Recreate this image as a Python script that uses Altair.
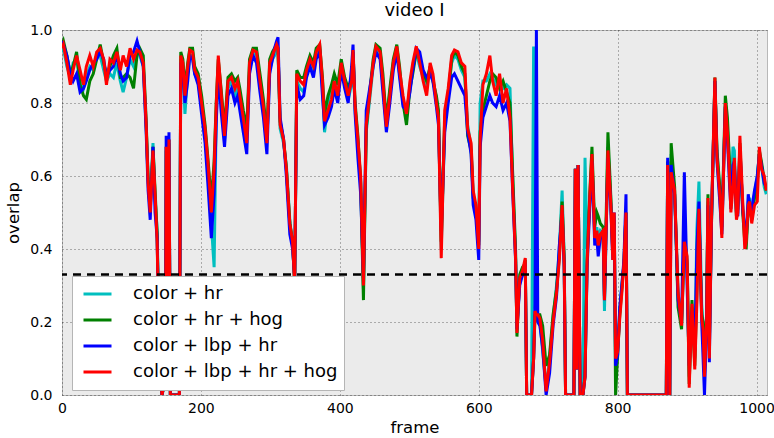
import altair as alt
import pandas as pd

# Frame indices shared by every tracker curve
frame = [
    0, 2, 7, 12, 16, 21, 26, 31, 35, 40,
    45, 50, 55, 60, 64, 69, 74, 79, 84, 88,
    93, 98, 103, 108, 112, 117, 121, 124, 127, 131,
    134, 137, 140, 144, 149, 150, 152, 154, 156, 169,
    171, 174, 177, 181, 184, 188, 191, 196, 201, 206,
    210, 215, 219, 222, 225, 229, 234, 239, 244, 249,
    253, 256, 261, 266, 270, 275, 280, 285, 290, 295,
    299, 303, 306, 309, 311, 314, 319, 323, 328, 332,
    335, 338, 343, 348, 352, 357, 362, 366, 371, 375,
    378, 383, 388, 392, 397, 402, 407, 412, 417, 419,
    422, 426, 430, 434, 438, 443, 448, 452, 458, 462,
    467, 472, 477, 482, 486, 491, 496, 501, 505, 510,
    515, 520, 525, 530, 534, 539, 542, 546, 551, 556,
    561, 565, 570, 575, 580, 584, 589, 592, 596, 600,
    602, 606, 611, 616, 620, 625, 630, 635, 640, 645,
    649, 653, 655, 659, 663, 667, 669, 676, 679, 681,
    683, 685, 688, 692, 697, 702, 707, 712, 716, 720,
    723, 725, 737, 739, 741, 743, 746, 750, 753, 756,
    760, 763, 767, 770, 772, 775, 779, 781, 786, 790,
    793, 795, 797, 800, 803, 806, 809, 812, 814, 870,
    872, 875, 877, 882, 887, 892, 896, 900, 903, 907,
    911, 914, 917, 921, 923, 925, 928, 930, 932, 935,
    940, 943, 947, 950, 955, 958, 961, 963, 966, 968,
    971, 973, 976, 980, 983, 985, 988, 990, 993, 997,
    1001, 1004, 1007, 1011, 1014,
]

# Overlap per frame, one list per feature combination
color_hr = [
    .94, .95, .90, .87, .91, .92, .86, .84, .87, .90,
    .89, .93, .93, .89, .86, .88, .87, .91, .86, .83,
    .87, .92, .90, .94, .93, .90, .74, .60, .52, .69,
    .54, .45, .12, 0, .04, .67, .12, .69, 0, 0,
    .92, .90, .77, .88, .93, .93, .88, .86, .79, .72,
    .62, .47, .35, .76, .90, .81, .70, .84, .86, .82,
    .84, .80, .74, .72, .89, .94, .93, .85, .78, .70,
    .89, .92, .93, .95, .94, .73, .69, .63, .48, .41,
    .31, .86, .84, .83, .88, .91, .89, .93, .95, .84,
    .72, .80, .84, .87, .84, .90, .85, .81, .85, .93,
    .78, .69, .59, .29, .72, .81, .90, .95, .93, .85,
    .74, .83, .90, .94, .88, .80, .76, .85, .90, .94,
    .90, .87, .84, .90, .87, .81, .77, .40, .74, .83,
    .91, .93, .92, .89, .87, .74, .68, .55, .51, .42,
    .80, .86, .86, .88, .87, .85, .86, .84, .85, .84,
    .58, .38, .19, .31, .33, .37, 0, 0, .955, .24,
    .21, .22, .20, .12, .02, .10, .21, .30, .40, .56,
    .38, 0, 0, .62, .08, .63, 0, 0, .65, .40,
    .53, .64, .44, .46, .43, .45, .44, .23, .68, .54,
    .38, .49, .10, .13, .23, .30, .36, .50, 0, 0,
    .64, 0, .66, .55, .28, .20, .44, .37, .05, .24,
    .10, .45, .585, .25, .19, .06, .21, .53, .12, .47,
    .86, .66, .56, .45, .79, .73, .62, .53, .68, .67,
    .50, .52, .66, .52, .44, .42, .53, .54, .49, .55,
    .60, .66, .63, .57, .55,
]

color_hr_hog = [
    .96, .97, .93, .88, .90, .94, .85, .82, .81, .86,
    .88, .92, .96, .91, .88, .90, .93, .95, .87, .87,
    .88, .87, .84, .93, .95, .93, .76, .59, .51, .68,
    .56, .44, .10, 0, .05, .68, .12, .70, 0, 0,
    .94, .92, .84, .91, .95, .95, .90, .88, .82, .74,
    .65, .53, .64, .80, .92, .84, .73, .87, .88, .86,
    .87, .84, .78, .73, .92, .95, .95, .88, .81, .71,
    .92, .94, .95, .96, .95, .75, .70, .62, .47, .42,
    .30, .89, .87, .87, .90, .93, .91, .95, .96, .87,
    .77, .82, .85, .88, .85, .92, .87, .84, .87, .94,
    .80, .71, .58, .26, .73, .83, .92, .96, .95, .88,
    .75, .84, .92, .96, .90, .80, .74, .84, .88, .94,
    .92, .88, .86, .90, .86, .82, .78, .42, .76, .82,
    .92, .94, .93, .90, .88, .71, .67, .54, .50, .41,
    .72, .78, .82, .86, .88, .87, .84, .86, .83, .80,
    .60, .40, .16, .33, .35, .36, 0, 0, .10, .22,
    .21, .22, .22, .19, .08, .11, .22, .29, .38, .53,
    .37, 0, 0, .62, .07, .63, 0, 0, .05, .37,
    .56, .68, .46, .50, .49, .47, .46, .27, .72, .55,
    .39, .48, 0, .11, .22, .29, .36, .50, 0, 0,
    .64, 0, .69, .57, .24, .18, .43, .36, .03, .26,
    .08, .28, .50, .22, .20, .07, .22, .55, .14, .46,
    .87, .67, .57, .46, .82, .76, .64, .52, .60, .63,
    .49, .51, .69, .50, .42, .40, .51, .52, .48, .54,
    .58, .67, .64, .59, .56,
]

color_lbp_hr = [
    .97, .96, .93, .88, .86, .88, .83, .84, .86, .89,
    .91, .92, .94, .92, .87, .89, .90, .93, .88, .86,
    .87, .93, .94, .97, .94, .90, .73, .56, .48, .68,
    .50, .43, .10, 0, .05, .71, .12, .72, 0, 0,
    .91, .89, .80, .86, .93, .92, .88, .85, .77, .69,
    .58, .43, .55, .74, .89, .78, .68, .82, .84, .80,
    .82, .78, .72, .66, .88, .93, .91, .83, .76, .66,
    .88, .92, .95, .97, .98, .76, .70, .60, .44, .40,
    .32, .85, .81, .82, .87, .90, .87, .92, .94, .82,
    .74, .76, .79, .84, .80, .89, .84, .80, .90, .96,
    .77, .65, .55, .32, .78, .84, .90, .94, .92, .83,
    .72, .80, .89, .94, .87, .79, .78, .83, .89, .95,
    .94, .89, .87, .88, .86, .79, .74, .45, .72, .80,
    .87, .88, .86, .84, .82, .72, .66, .52, .48, .37,
    .68, .76, .79, .82, .80, .79, .82, .78, .80, .75,
    .55, .37, .18, .30, .33, .36, 0, 0, .10, .25,
    1.0, .20, .19, .13, 0, .06, .19, .27, .41, .50,
    .35, 0, 0, .62, .07, .63, 0, 0, .05, .35,
    .52, .64, .41, .43, .38, .43, .45, .26, .65, .52,
    .37, .50, .08, .11, .24, .30, .37, .55, 0, 0,
    .65, 0, .63, .55, .26, .20, .61, .30, .08, .23,
    .12, .40, .53, .20, .10, 0, .19, .52, .09, .47,
    .86, .64, .53, .44, .79, .70, .58, .51, .63, .64,
    .50, .49, .68, .51, .45, .43, .55, .52, .51, .56,
    .60, .66, .63, .58, .57,
]

color_lbp_hr_hog = [
    .95, .96, .91, .85, .89, .93, .89, .85, .90, .93,
    .90, .94, .95, .92, .85, .92, .91, .94, .89, .93,
    .90, .95, .92, .945, .94, .91, .75, .58, .50, .67,
    .55, .42, .10, 0, .05, .68, .12, .70, 0, 0,
    .93, .91, .82, .90, .945, .94, .89, .87, .80, .73,
    .64, .50, .62, .79, .93, .83, .71, .86, .87, .84,
    .86, .82, .76, .69, .91, .945, .94, .86, .79, .69,
    .91, .93, .945, .96, .95, .74, .70, .62, .47, .42,
    .30, .88, .86, .85, .89, .92, .90, .94, .96, .86,
    .75, .78, .81, .86, .82, .91, .86, .82, .86, .945,
    .79, .70, .60, .30, .74, .82, .91, .955, .94, .86,
    .735, .82, .91, .955, .89, .82, .77, .86, .91, .955,
    .91, .86, .82, .91, .88, .80, .76, .375, .78, .84,
    .93, .945, .94, .91, .90, .73, .69, .56, .52, .40,
    .70, .85, .88, .93, .86, .82, .88, .80, .84, .76,
    .56, .375, .17, .32, .34, .375, 0, 0, .10, .23,
    .22, .22, .21, .15, .01, .09, .20, .28, .37, .52,
    .36, 0, 0, .62, .07, .63, 0, 0, .05, .36,
    .55, .66, .43, .45, .41, .44, .45, .26, .67, .53,
    .37, .50, .10, .12, .21, .28, .36, .50, 0, 0,
    .63, 0, .61, .56, .28, .19, .42, .38, .02, .25,
    .07, .25, .51, .21, .18, .05, .20, .54, .10, .48,
    .87, .65, .55, .43, .80, .72, .60, .50, .57, .65,
    .48, .50, .71, .53, .40, .42, .52, .53, .47, .52,
    .53, .68, .62, .60, .56,
]

series_names = ["color + hr", "color + hr + hog", "color + lbp + hr", "color + lbp + hr + hog"]
series_values = [color_hr, color_hr_hog, color_lbp_hr, color_lbp_hr_hog]
series_colors = ["#00bfbf", "#008000", "#0000ff", "#ff0000"]
threshold = [0.33]
x_ticks = [0, 200, 400, 600, 800, 1000]
y_ticks = [0.0, 0.2, 0.4, 0.6, 0.8, 1.0]

rows = []
for name, values in zip(series_names, series_values):
    assert len(values) == len(frame), name
    for f, v in zip(frame, values):
        rows.append({"frame": f, "overlap": v, "method": name})
df = pd.DataFrame(rows)

FONT = "DejaVu Sans"

x_enc = alt.X(
    "frame:Q",
    scale=alt.Scale(domain=[0, 1015], nice=False, zero=False),
    axis=alt.Axis(values=x_ticks, title="frame", format="d", labelFlush=False),
)
y_enc = alt.Y(
    "overlap:Q",
    scale=alt.Scale(domain=[0, 1], nice=False),
    axis=alt.Axis(values=y_ticks, title="overlap", format=".1f", labelFlush=False),
)
color_enc = alt.Color(
    "method:N",
    scale=alt.Scale(domain=series_names, range=series_colors),
    legend=alt.Legend(
        title=None,
        orient="none",
        legendX=10,
        legendY=246,
        symbolType="stroke",
        symbolSize=784,
        symbolStrokeWidth=3,
        symbolOffset=4,
        labelFont=FONT,
        labelFontSize=18,
        labelColor="black",
        labelOffset=20,
        labelLimit=400,
        padding=6,
        clipHeight=24,
        rowPadding=2,
        fillColor="white",
        strokeColor="#b5b5b5",
    ),
)

# one layer per curve so the drawing order follows the legend order
layers = [
    alt.Chart(df)
    .transform_filter(alt.datum.method == name)
    .mark_line(strokeWidth=3, clip=True)
    .encode(x=x_enc, y=y_enc, color=color_enc)
    for name in series_names
]

rule = (
    alt.Chart(pd.DataFrame({"overlap": threshold}))
    .mark_rule(color="black", strokeDash=[8, 6], strokeWidth=2.6)
    .encode(y="overlap:Q")
)

chart = (
    alt.layer(*layers, rule)
    .properties(
        width=705,
        height=365,
        title=alt.TitleParams(
            "video I", font=FONT, fontSize=18, fontWeight="normal",
            color="black", anchor="middle", offset=3,
        ),
        autosize=alt.AutoSizeParams(type="none"),
        padding={"left": 62, "top": 30, "right": 7, "bottom": 43},
    )
    .configure_view(fill="#ebebeb", stroke="#b8b8b8", strokeWidth=1)
    .configure_axis(
        labelFont=FONT,
        labelFontSize=14,
        labelColor="black",
        titleFont=FONT,
        titleFontSize=16.5,
        titleFontWeight="normal",
        titleColor="black",
        ticks=False,
        tickSize=0,
        domain=False,
        grid=True,
        gridColor="#000000",
        gridOpacity=0.55,
        gridDash=[1, 3],
        gridWidth=1,
    )
    .configure_axisX(labelPadding=6, titlePadding=4)
    .configure_axisY(labelPadding=10, titlePadding=8)
)

chart.save("out.html", embed_options={"renderer": "svg", "actions": False})
